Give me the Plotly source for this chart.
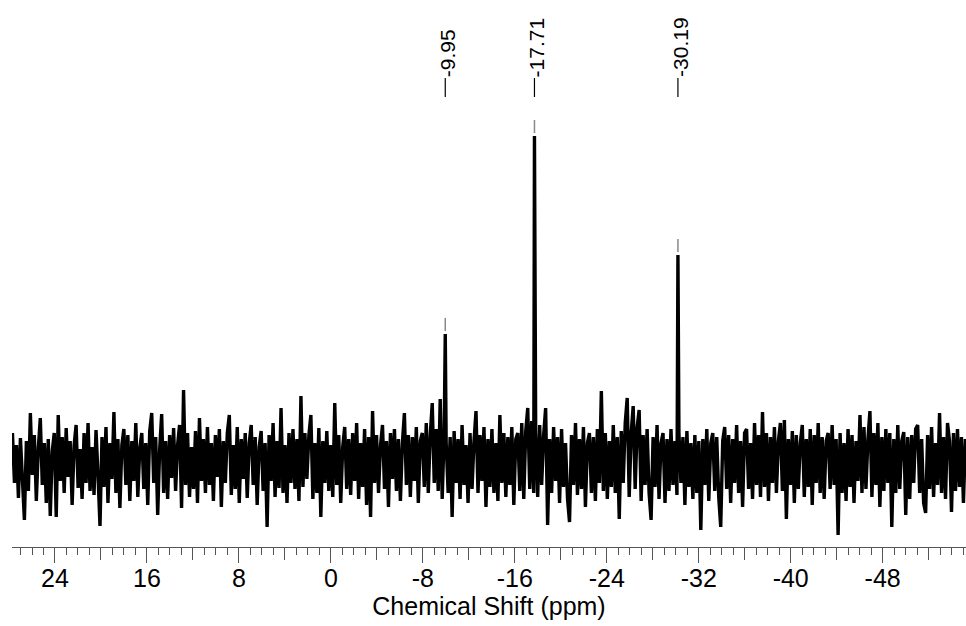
import numpy as np
import plotly.graph_objects as go

# ---- data ----
ppm_left, ppm_right = 27.7, -55.2          # spectral window of the noise trace
noise = [
    30, -20, 18, -35, 25, -15, -57, 22, -28, 50, -12, 28, -38, 15, 45, -22, 20, -40, 24, -53,
    12, 30, -54, 48, -18, 26, -30, 35, -14, 22, -42, 18, 38, -25, 14, -36, 30, -20, 40, -28,
    16, -32, 33, -12, -63, 26, -24, 36, -40, 20, -16, 51, -30, 24, -45, 18, 34, -22, 28, -38,
    22, -18, 40, -34, 15, 30, -26, 20, -42, 32, 50, -20, 26, -52, 14, 49, -30, 22, -36, 28,
    -15, 35, -28, 18, 38, -45, 73, -22, 30, -34, 16, -26, 32, -40, 45, -18, 24, -30, 36, -22,
    20, -38, 28, -14, 34, -44, 22, -20, 30, 48, -32, 18, -26, 36, -40, 24, -16, 30, -35, 20,
    38, -22, 26, -42, 16, 32, -28, 20, -64, 28, -18, 40, -34, 22, -25, 55, -30, 18, -40, 30,
    -20, 34, -26, 24, -38, 67, -24, 30, -16, 28, 48, -36, 20, -30, 35, -54, 22, -20, 32, -28,
    18, -34, 60, -22, 28, -40, 16, 36, -26, 24, -32, 30, -18, 40, -36, 20, -24, 34, -42, 26,
    -54, 52, -20, 28, -30, 18, 38, -26, 22, -44, 30, -16, 34, -28, 24, -38, 20, 50, -22, 28,
    -34, 26, -18, 36, -40, 22, 30, -24, 40, -30, 28, 60, -20, 34, -28, 64, -36, 30, 20, -30,
    26, -54, 32, -20, 24, -36, 38, -22, 18, -40, 30, -26, 22, 52, -30, 28, -18, 36, -44, 24,
    -24, 34, -30, 20, -38, 48, -20, 30, -34, 26, -22, 36, -42, 24, 30, -28, 40, -36, 32, 55,
    -26, 42, -30, 30, -34, 38, -22, 28, 55, -62, 24, -30, 36, -18, 26, -40, 34, -24, 20, -36,
    -59, 28, -22, 40, -32, 24, -26, 36, -44, 20, 30, -30, 26, -38, 34, -20, 72, -28, 30, -36,
    22, -24, 38, -30, 26, -56, 32, -20, 40, 65, -34, 30, 57, -26, 36, 53, -38, 28, -22, 34,
    -30, -57, 26, -24, 38, -36, 20, 30, -40, 24, -28, 34, -22, 22, -32, 30, -20, 26, -42, 32,
    -24, 20, -36, 28, -30, 22, -67, 24, -22, 34, -38, 20, 30, -28, 26, -34, -64, 22, 36, -26,
    28, -40, 24, -20, 38, -30, 22, -44, 30, 34, -26, 20, -36, 40, -22, 28, -34, 51, -24, 30,
    -38, 26, -20, 36, -30, 22, 40, -28, 43, -56, 24, -22, 32, -40, 28, -26, 20, 38, -34, 24,
    -24, 34, -42, 28, -20, 40, -30, 26, -36, 22, 30, -26, 38, -22, 24, -72, 30, -30, 20, -38,
    34, -24, 28, -40, 22, -18, 48, -30, 36, -26, 24, 52, -34, 30, -22, 40, -44, 26, -28, 34,
    -20, 30, -64, 24, -30, 38, -26, 22, 31, -52, 26, -36, 28, -20, 34, 38, -30, 24, -40, -50,
    28, -26, 36, -34, 20, -22, 50, -30, 26, -36, 40, 22, -49, 30, -28, 34, -24, 26, -40, 24,
]
peak_ppm = [-9.95, -17.71, -30.19]
peak_height = [129, 327, 208]
peak_labels = ["-9.95", "-17.71", "-30.19"]
tick_vals = [24, 16, 8, 0, -8, -16, -24, -32, -40, -48]
tick_text = ["24", "16", "8", "0", "-8", "-16", "-24", "-32", "-40", "-48"]
medium_dtick, minor_dtick = 4, 1

# ---- build spectrum ----
ppm = np.linspace(ppm_left, ppm_right, len(noise))
x_all = np.concatenate([ppm, np.array(peak_ppm)])
y_all = np.concatenate([np.array(noise, float), np.array(peak_height, float)])
order = np.argsort(-x_all)
x_all, y_all = x_all[order], y_all[order]

FONT = "Liberation Sans, Arial, sans-serif"
AX = "#555555"
x_range = [27.74, -55.25]
y_range = [-84, 463]

fig = go.Figure()
fig.add_trace(go.Scatter(x=x_all, y=y_all, mode="lines",
                         line=dict(color="black", width=3.4),
                         hoverinfo="skip", showlegend=False))
# helper trace so the medium-tick overlay axis is drawn
fig.add_trace(go.Scatter(x=[None], y=[None], xaxis="x2", yaxis="y",
                         mode="lines", showlegend=False, hoverinfo="skip"))

shapes = []
annotations = []
for p, h, lab in zip(peak_ppm, peak_height, peak_labels):
    shapes.append(dict(type="line", xref="x", yref="y", x0=p, x1=p,
                       y0=h + 3, y1=h + 16, line=dict(color="#888888", width=1.5)))
    shapes.append(dict(type="line", xref="x", yref="y", x0=p, x1=p,
                       y0=366, y1=385, line=dict(color="black", width=1.2)))
    annotations.append(dict(x=p, y=385, xref="x", yref="y", text=lab,
                            textangle=-90, showarrow=False, xanchor="center",
                            yanchor="bottom", xshift=2, borderpad=0,
                            font=dict(family=FONT, size=21, color="black")))

fig.update_layout(
    width=966, height=626,
    margin=dict(l=12, r=0, t=0, b=79),
    paper_bgcolor="white", plot_bgcolor="white",
    showlegend=False,
    shapes=shapes, annotations=annotations,
    xaxis=dict(range=x_range, showgrid=False, zeroline=False,
               showline=True, linecolor=AX, linewidth=1.3,
               ticks="outside", ticklen=15, tickwidth=1.3, tickcolor=AX,
               tickmode="array", tickvals=tick_vals, ticktext=tick_text,
               ticklabelstandoff=-6,
               tickfont=dict(family=FONT, size=25, color="black"),
               minor=dict(ticks="outside", ticklen=7, tickwidth=1, tickcolor=AX,
                          tickmode="linear", tick0=0, dtick=minor_dtick, showgrid=False),
               title=dict(text="Chemical Shift (ppm)", standoff=4,
                          font=dict(family=FONT, size=25, color="black"))),
    xaxis2=dict(range=x_range, overlaying="x", anchor="y", side="bottom",
                showgrid=False, zeroline=False, showline=False,
                ticks="outside", ticklen=12, tickwidth=1, tickcolor=AX,
                tick0=0, dtick=medium_dtick, showticklabels=False),
    yaxis=dict(range=y_range, visible=False, showgrid=False, zeroline=False),
)

fig.write_html("out.html")
